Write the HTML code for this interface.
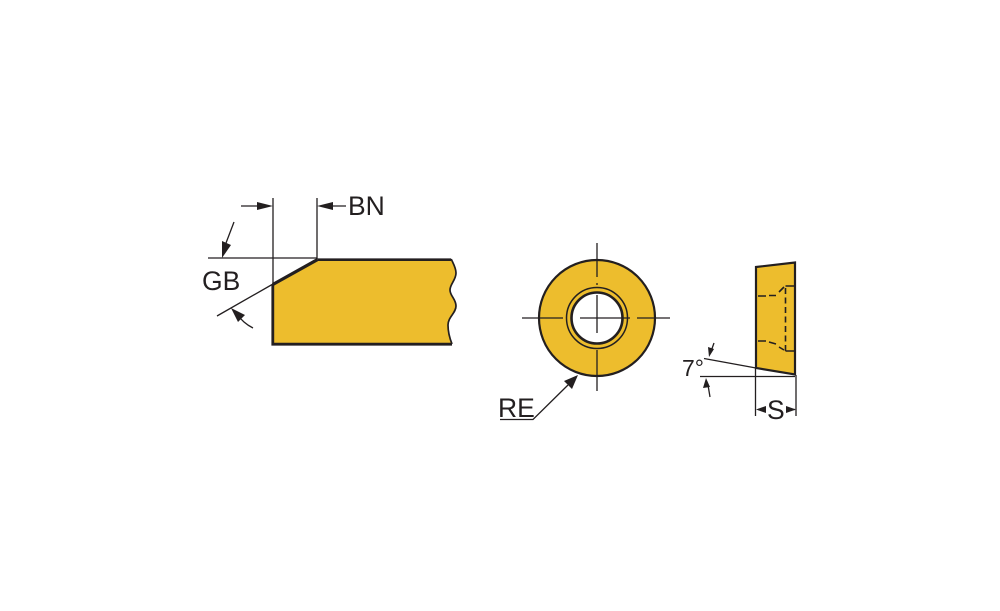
<!DOCTYPE html>
<html>
<head>
<meta charset="utf-8">
<style>
html,body{margin:0;padding:0;background:#fff;}
svg{display:block;}
text{font-family:"Liberation Sans",sans-serif;fill:#231f20;}
</style>
</head>
<body>
<svg width="1000" height="611" viewBox="0 0 1000 611" xmlns="http://www.w3.org/2000/svg">
<rect width="1000" height="611" fill="#fff"/>
<g fill="none" stroke="#231f20" stroke-width="1.3">
  <!-- left view -->
  <path d="M273 198V285M317 198V259M208 258H317M217 316L273 284"/>
  <path d="M241 206H262M346 206H328"/>
  <path d="M234 222L226 243"/>
  <path d="M253 328Q243 323 237 314"/>
</g>
<path d="M272.8 344V284.500L317.300 259.700H451.500C453 263 456 268 456 273C456 280 450 284 450 290C450 296 456 299 456 306C456 313 448 317 448 325C448 332 450 339 452 344Z" fill="#edbd2d"/>
<path d="M317.300 259.700H451.500C453 263 456 268 456 273C456 280 450 284 450 290C450 296 456 299 456 306C456 313 448 317 448 325C448 332 450 339 452 344" fill="none" stroke="#231f20" stroke-width="1.7"/>
<path d="M317.300 259.700H451" fill="none" stroke="#231f20" stroke-width="2.600"/>
<path d="M452 344.200H272.800V284.500" fill="none" stroke="#231f20" stroke-width="2.800"/>
<path d="M272.800 284.500L317.300 259.700" fill="none" stroke="#231f20" stroke-width="3.200"/>
<g fill="#231f20">
  <path d="M273 206L257 202V210Z"/>
  <path d="M317 206L333 202V210Z"/>
  <path d="M222 258L222 241L231 245Z"/>
  <path d="M231 308L245 315L238 322Z"/>
</g>
<text x="202" y="290" font-size="26.500">GB</text>
<text x="348" y="215" font-size="26.500">BN</text>

<!-- circle view -->
<circle cx="597" cy="318" r="58" fill="#edbd2d" stroke="#231f20" stroke-width="2.200"/>
<circle cx="597" cy="318" r="30.500" fill="#edbd2d" stroke="#231f20" stroke-width="1.500"/>
<circle cx="597" cy="318" r="25.500" fill="#fff" stroke="#231f20" stroke-width="2.600"/>
<g fill="none" stroke="#231f20" stroke-width="1.300">
  <path d="M597 243V277M597 283V285M597 295V333M597 350V391"/>
  <path d="M522 318H563M580 318H630M637 318H670"/>
  <path d="M500 419.500H533L568 385"/>
</g>
<path d="M578 375L564 381L572 389Z" fill="#231f20"/>
<text x="498" y="417" font-size="26.500">RE</text>

<!-- side view -->
<path d="M756 267L795 262.500V374.500L756 368Z" fill="#edbd2d" stroke="#231f20" stroke-width="2.200"/>
<g fill="none" stroke="#231f20" stroke-width="1.600">
  <path d="M758 296H766M769 295.500H776M779 292L784 287" />
  <path d="M785.500 286H795M785.500 351H795"/>
  <path d="M785.500 288V351" stroke-dasharray="6 3.500"/>
  <path d="M758 341H766M769 342L776 344M779 347L784 350"/>
</g>
<g fill="none" stroke="#231f20" stroke-width="1.300">
  <path d="M704 358.500L756 368"/>
  <path d="M700 376.500H795"/>
  <path d="M755.500 368V416M796 375V416"/>
  <path d="M714 343L711.500 350M708 385L710 397"/>
  <path d="M765 409.500H758M789 409.500H795"/>
</g>
<g fill="#231f20">
  <path d="M709 357L708 347L714 349Z"/>
  <path d="M706 378L703 388L710 387Z"/>
  <path d="M756 409.500L766 406V413Z"/>
  <path d="M796 409.500L786 406V413Z"/>
</g>
<text x="682" y="376" font-size="23">7°</text>
<text x="767" y="419" font-size="26.500">S</text>
</svg>
</body>
</html>
